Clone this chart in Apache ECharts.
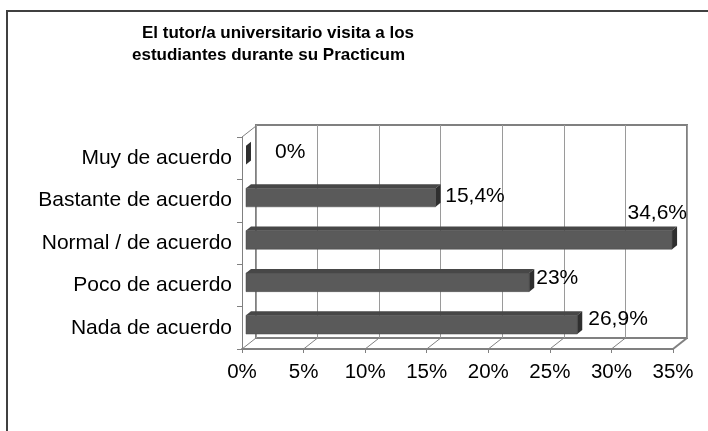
<!DOCTYPE html>
<html>
<head>
<meta charset="utf-8">
<script src="https://cdn.jsdelivr.net/npm/echarts@6/dist/echarts.min.js"></script>
<style>
html, body { margin: 0; padding: 0; background: #fff; }
#chart { width: 708px; height: 431px; }
</style>
</head>
<body>
<div id="chart"></div>
<script>
const titleLines = ['El tutor/a universitario visita a los', 'estudiantes durante su Practicum']
const categories = ['Muy de acuerdo', 'Bastante de acuerdo', 'Normal / de acuerdo', 'Poco de acuerdo', 'Nada de acuerdo']
const values = [0, 15.4, 34.6, 23, 26.9]
const ticks = [0, 5, 10, 15, 20, 25, 30, 35]

const FONT = '"Liberation Sans", Arial, sans-serif'
const WALL = '#808080'
const DEPTH = [14, -11]      // desplazamiento de la pared del fondo
const BAR_SHIFT = [4, -3.1]  // las barras no están en el plano frontal
const BAR_DEPTH = [5, -4]
// etiquetas colocadas como en Excel: dx desde el lateral de la barra, dy desde su centro
const labelNudge = [[24, -3], [4.6, -1], [-49.6, -27], [2, -4], [6, -5.5]]

const fmt = v => String(v).replace('.', ',') + '%'

const renderFrame = (params, api) => {
  const cs = params.coordSys
  const v = api.value(0)
  const x = api.coord([v, 0])[0]
  const bottom = cs.y + cs.height
  const children = [{
    type: 'line',
    shape: { x1: x, y1: bottom, x2: x + DEPTH[0], y2: bottom + DEPTH[1] },
    style: { stroke: WALL, lineWidth: v === ticks[ticks.length - 1] ? 2 : 1 }
  }]
  if (params.dataIndex === 0) {
    children.push({
      type: 'line',
      shape: { x1: cs.x, y1: cs.y, x2: cs.x + DEPTH[0], y2: cs.y + DEPTH[1] },
      style: { stroke: WALL, lineWidth: 1 }
    })
  }
  return { type: 'group', children }
}

const renderBar = (params, api) => {
  const v = api.value(0)
  const i = api.value(1)
  const start = api.coord([0, i])
  const end = api.coord([v, i])
  const h = api.size([0, 1])[1] * 0.44
  const x0 = start[0] + BAR_SHIFT[0]
  const x1 = end[0] + BAR_SHIFT[0]
  const yc = end[1] + BAR_SHIFT[1]
  const y0 = yc - h / 2
  const y1 = yc + h / 2
  const [dx, dy] = BAR_DEPTH
  const nudge = labelNudge[params.dataIndex] || [4, 0]
  const children = []
  if (x1 > x0) {
    children.push({
      type: 'rect',
      shape: { x: x0, y: y0, width: x1 - x0, height: h },
      style: { fill: '#5a5a5a', stroke: '#4a4a4a', lineWidth: 0.5 }
    })
    children.push({
      type: 'polygon',
      shape: { points: [[x0, y0], [x0 + dx, y0 + dy], [x1 + dx, y0 + dy], [x1, y0]] },
      style: { fill: '#474747' }
    })
  }
  children.push({
    type: 'polygon',
    shape: { points: [[x1, y0], [x1 + dx, y0 + dy], [x1 + dx, y1 + dy], [x1, y1]] },
    style: { fill: '#2f2f2f' }
  })
  children.push({
    type: 'text',
    style: {
      text: fmt(v),
      x: x1 + dx + nudge[0],
      y: yc + nudge[1],
      fill: '#000',
      fontSize: 21,
      fontFamily: FONT,
      align: 'left',
      verticalAlign: 'middle'
    }
  })
  return { type: 'group', children }
}

const myChart = echarts.init(document.getElementById('chart'), null, { renderer: 'canvas' })

const option = {
  backgroundColor: '#fff',
  animation: false,
  title: titleLines.map((t, k) => ({
    text: t,
    left: k === 0 ? 278 : 268.5,
    top: 22 + k * 22,
    textAlign: 'center',
    padding: 0,
    textStyle: { fontSize: 17, fontWeight: 'bold', fontFamily: FONT, color: '#000', lineHeight: 22 }
  })),
  graphic: [{
    type: 'rect',
    shape: { x: 7, y: 11, width: 720, height: 440 },
    style: { fill: 'none', stroke: '#404040', lineWidth: 2 },
    silent: true
  }],
  grid: [
    { left: 256, top: 125, width: 431, height: 213, show: true, borderColor: WALL, borderWidth: 2, backgroundColor: 'transparent' },
    { left: 242, top: 137, width: 431, height: 212 }
  ],
  xAxis: [
    {
      gridIndex: 0, type: 'value', min: 0, max: 35, interval: 5,
      axisLine: { show: false }, axisTick: { show: false }, axisLabel: { show: false },
      splitLine: { lineStyle: { color: '#9a9a9a', width: 1 } }
    },
    {
      gridIndex: 1, type: 'value', min: 0, max: 35, interval: 5,
      axisLine: { show: true, lineStyle: { color: WALL, width: 2 } },
      axisTick: { show: true, length: 4, lineStyle: { color: WALL } },
      axisLabel: { formatter: '{value}%', fontSize: 20.5, fontFamily: FONT, color: '#000', margin: 13 },
      splitLine: { show: false }
    }
  ],
  yAxis: [
    { gridIndex: 0, type: 'category', data: categories, inverse: true, show: false },
    {
      gridIndex: 1, type: 'category', data: categories, inverse: true,
      axisLine: { show: true, lineStyle: { color: WALL, width: 1 } },
      axisTick: { show: true, length: 5, lineStyle: { color: WALL } },
      axisLabel: { fontSize: 21, fontFamily: FONT, color: '#000', margin: 10 },
      splitLine: { show: false }
    }
  ],
  series: [
    {
      type: 'custom',
      xAxisIndex: 1, yAxisIndex: 1,
      renderItem: renderFrame,
      encode: { x: 0, y: 1 },
      data: ticks.map(v => [v, 0]),
      silent: true
    },
    {
      type: 'custom',
      xAxisIndex: 1, yAxisIndex: 1,
      renderItem: renderBar,
      encode: { x: 0, y: 1 },
      data: values.map((v, i) => [v, i])
    }
  ]
}

myChart.setOption(option)
</script>
</body>
</html>
